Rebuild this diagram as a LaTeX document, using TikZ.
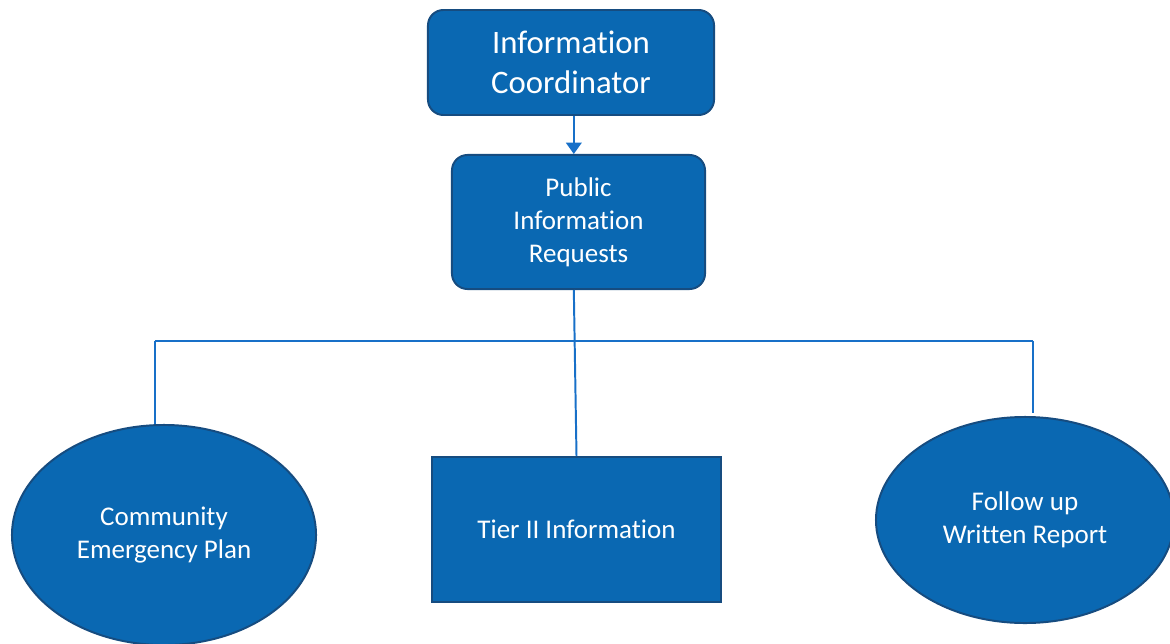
\documentclass[tikz,border=0pt]{standalone}
\usepackage{fontspec}
\setmainfont{Carlito}[Ligatures=NoCommon]
\usetikzlibrary{arrows.meta,shapes.geometric}
\definecolor{boxblue}{RGB}{10,104,178}
\definecolor{rimblue}{RGB}{22,76,128}
\definecolor{lineblue}{RGB}{24,112,200}

\begin{document}
\begin{tikzpicture}[x=0.025cm,y=-0.025cm,
    unit/.style={draw=rimblue,line width=1.4pt,fill=boxblue,text=white,align=center,inner sep=0pt},
    link/.style={draw=lineblue,line width=1.4pt}]
  \useasboundingbox (0,0) rectangle (1170,644);
  \node[unit,rounded corners=11pt,minimum width=7.15cm,minimum height=2.625cm,
        font=\fontsize{23.3}{28.5}\selectfont] (coord) at (571,62.5) {Information\\Coordinator};
  \node[unit,rounded corners=11pt,minimum width=6.325cm,minimum height=3.35cm,
        font=\fontsize{19.2}{23.5}\selectfont] (pubreq) at (578.5,222) {Public\\Information\\Requests};
  \node[unit,minimum width=7.225cm,minimum height=3.625cm,
        font=\fontsize{19.2}{23.5}\selectfont] (tier) at (576.5,529.5) {Tier II Information};
  \node[unit,ellipse,minimum width=7.6cm,minimum height=5.5cm,
        font=\fontsize{19.2}{23.5}\selectfont] (plan) at (164,535) {Community\\Emergency Plan};
  \node[unit,ellipse,minimum width=7.45cm,minimum height=5.15cm,
        font=\fontsize{19.2}{23.5}\selectfont] (report) at (1025,520) {Follow up\\Written Report};
  % bus line
  \coordinate (busL) at (155,341);
  \coordinate (busR) at (1033,341);
  \coordinate (dropR) at (1033,413);
  \draw[link,-{Triangle[width=11pt,length=8pt]}] ([xshift=2pt]coord.south) -- ([xshift=2pt]coord.south |- pubreq.north);
  \draw[link] ([xshift=2pt]coord.south |- pubreq.south) -- (tier.north);
  \draw[link] (busL) -- (busR);
  \draw[link] (busL) -- (busL |- plan.north);
  \draw[link] (busR) -- (dropR);
\end{tikzpicture}
\end{document}
